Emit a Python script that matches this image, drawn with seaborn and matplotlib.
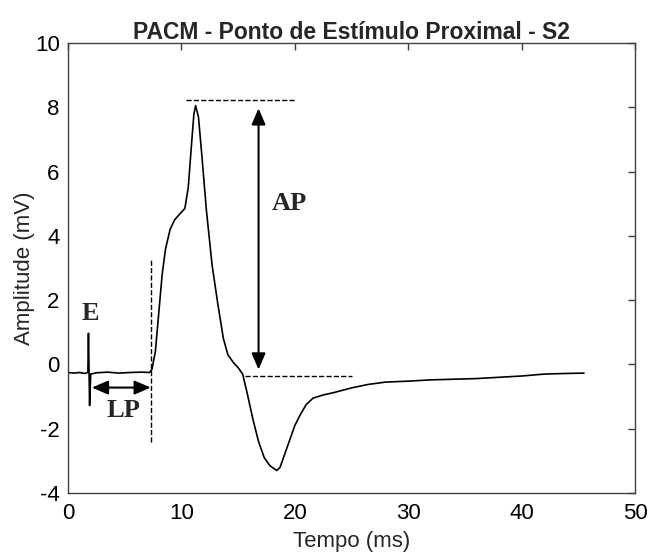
import pandas as pd
import matplotlib
matplotlib.use("Agg")
import matplotlib.pyplot as plt
import seaborn as sns

# sinal PACM (ms, mV)
tempo = [0.0, 0.5, 1.0, 1.5, 1.75, 1.8, 1.9, 2.0, 2.5, 3.5, 4.5, 5.5, 6.5, 7.2,
         7.4, 7.7, 8.0, 8.3, 8.6, 9.0, 9.4, 9.9, 10.3, 10.6, 10.9, 11.1, 11.25,
         11.5, 11.8, 12.2, 12.7, 13.2, 13.7, 14.1, 14.6, 15.0, 15.4, 15.8, 16.3,
         16.8, 17.3, 17.8, 18.4, 18.7, 19.0, 19.5, 20.0, 20.5, 21.0, 21.6, 22.5,
         23.5, 25.0, 26.5, 28.0, 30.0, 32.0, 34.0, 36.0, 38.0, 40.0, 42.0, 44.0, 45.5]
amplitude = [-0.25, -0.27, -0.25, -0.28, -0.25, 0.97, -1.28, -0.3, -0.26, -0.24,
             -0.27, -0.25, -0.24, -0.25, -0.15, 0.4, 1.6, 2.8, 3.6, 4.2, 4.5, 4.7,
             4.85, 5.5, 6.9, 7.8, 8.05, 7.7, 6.5, 4.8, 3.1, 1.9, 0.8, 0.3, 0.05,
             -0.1, -0.3, -0.9, -1.7, -2.4, -2.9, -3.15, -3.3, -3.2, -2.9, -2.4,
             -1.9, -1.55, -1.25, -1.05, -0.95, -0.87, -0.73, -0.62, -0.55, -0.52,
             -0.48, -0.46, -0.44, -0.40, -0.36, -0.30, -0.28, -0.27]

sinal = pd.DataFrame({"Tempo": tempo, "Amplitude": amplitude})

sns.set_style("white")
plt.rcParams['font.family'] = ['Liberation Sans', 'DejaVu Sans']
plt.rcParams['axes.unicode_minus'] = False

fig = plt.figure(figsize=(6.48, 5.53), dpi=100)
ax = fig.add_axes([0.105, 0.1085, 0.875, 0.8137])

sns.lineplot(data=sinal, x="Tempo", y="Amplitude", estimator=None, sort=False,
             color="black", linewidth=1.2, ax=ax)

# linhas de referencia tracejadas
ax.plot([7.35, 7.35], [-2.4, 3.3], "k--", lw=1)
ax.plot([10.4, 20.0], [8.22, 8.22], "k--", lw=1)
ax.plot([15.6, 25.0], [-0.37, -0.37], "k--", lw=1)

# setas
seta = dict(arrowstyle="<|-|>,head_length=0.7,head_width=0.3", color="black",
            lw=1.5, shrinkA=0, shrinkB=0, mutation_scale=14)
ax.annotate("", xy=(16.8, 7.97), xytext=(16.8, -0.16), arrowprops=seta)
ax.annotate("", xy=(2.1, -0.72), xytext=(7.3, -0.72), arrowprops=seta)

rotulo = dict(family=["Liberation Serif", "DejaVu Serif"], fontweight="bold",
              fontsize=19, ha="center", va="center")
ax.text(19.5, 5.0, "AP", **rotulo)
ax.text(2.0, 1.58, "E", **rotulo)
ax.text(4.85, -1.43, "LP", **rotulo)

ax.set_xlim(0, 50)
ax.set_ylim(-4, 10)
ax.set_xticks([0, 10, 20, 30, 40, 50])
ax.set_yticks([-4, -2, 0, 2, 4, 6, 8, 10])
ax.tick_params(direction="in", top=True, right=True, length=5, width=1,
               colors="#404040", labelcolor="black", labelsize=16)
ax.tick_params(axis="x", pad=7)
ax.tick_params(axis="y", pad=6)
for s in ax.spines.values():
    s.set_color("#404040")
    s.set_linewidth(1)

ax.set_title("PACM - Ponto de Estímulo Proximal - S2", fontsize=16.5,
             fontweight="bold", pad=3)
ax.set_xlabel("Tempo (ms)", fontsize=16, labelpad=5)
ax.set_ylabel("Amplitude (mV)", fontsize=16, labelpad=0)

fig.savefig("out.png", dpi=100)
